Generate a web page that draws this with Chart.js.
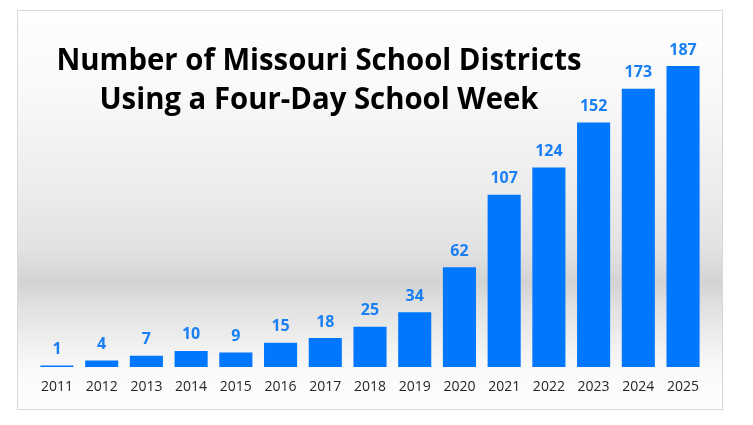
<!DOCTYPE html>
<html>
<head>
<meta charset="utf-8">
<script src="https://cdn.jsdelivr.net/npm/chart.js@4.4.1/dist/chart.umd.min.js"></script>
<style>
  html, body { margin: 0; padding: 0; background: #ffffff; }
  #wrap { position: relative; width: 753px; height: 425px; overflow: hidden; }
  #frame {
    position: absolute; left: 17px; top: 10px; width: 704px; height: 398px;
    border: 1px solid #d9d9d9;
    background: linear-gradient(to bottom,
      #fefefe 0%, #f9f9f9 20%, #ececec 45%, #e2e2e2 60%, #d3d3d3 68%,
      #e2e2e2 75%, #efefef 83%, #f8f8f8 89%, #fcfcfc 94%, #fdfdfd 100%);
  }
  #c { position: absolute; left: 0; top: 0; }
  #title {
    position: absolute; left: 19px; top: 39px; width: 600px;
    text-align: center; font-family: "Open Sans", sans-serif; font-weight: 700;
    font-size: 30px; line-height: 39px; color: #000000; white-space: nowrap;
    transform-origin: 300px 0;
  }
</style>
</head>
<body>
<div id="wrap">
  <div id="frame"></div>
  <canvas id="c" width="753" height="425"></canvas>
  <div id="title"><span id="t1">Number of Missouri School Districts</span><br><span>Using a Four-Day School Week</span></div>
</div>
<script>
const years = ["2011","2012","2013","2014","2015","2016","2017","2018","2019","2020","2021","2022","2023","2024","2025"];
const districts = [1, 4, 7, 10, 9, 15, 18, 25, 34, 62, 107, 124, 152, 173, 187];

// fit title width to reference proportions
(function(){
  const t1 = document.getElementById('t1');
  const w = t1.getBoundingClientRect().width;
  if (w > 0) document.getElementById('title').style.transform = 'scaleX(' + (525 / w) + ')';
})();

const valueLabels = {
  id: 'valueLabels',
  afterDatasetsDraw(chart) {
    const ctx = chart.ctx;
    const meta = chart.getDatasetMeta(0);
    ctx.save();
    ctx.font = '700 16px "Open Sans", sans-serif';
    ctx.fillStyle = '#1a7ff5';
    ctx.textAlign = 'center';
    ctx.textBaseline = 'alphabetic';
    meta.data.forEach((bar, i) => {
      ctx.fillText(String(chart.data.datasets[0].data[i]), bar.x, bar.y - 11.5);
    });
    ctx.restore();
  }
};

new Chart(document.getElementById('c'), {
  type: 'bar',
  data: {
    labels: years,
    datasets: [{
      data: districts,
      backgroundColor: '#0077ff',
      borderWidth: 0,
      categoryPercentage: 1.0,
      barPercentage: 0.74
    }]
  },
  options: {
    responsive: false,
    animation: false,
    devicePixelRatio: 1,
    layout: { padding: { left: 34.6, right: 47.6, top: 45.2, bottom: 17.2 } },
    plugins: { legend: { display: false }, tooltip: { enabled: false }, title: { display: false } },
    scales: {
      x: {
        grid: { display: false, drawTicks: false },
        border: { display: false },
        ticks: { color: '#262626', font: { family: '"Open Sans", sans-serif', size: 14 }, padding: 12, maxRotation: 0 }
      },
      y: { display: false, min: 0, max: 200 }
    }
  },
  plugins: [valueLabels]
});
</script>
</body>
</html>
